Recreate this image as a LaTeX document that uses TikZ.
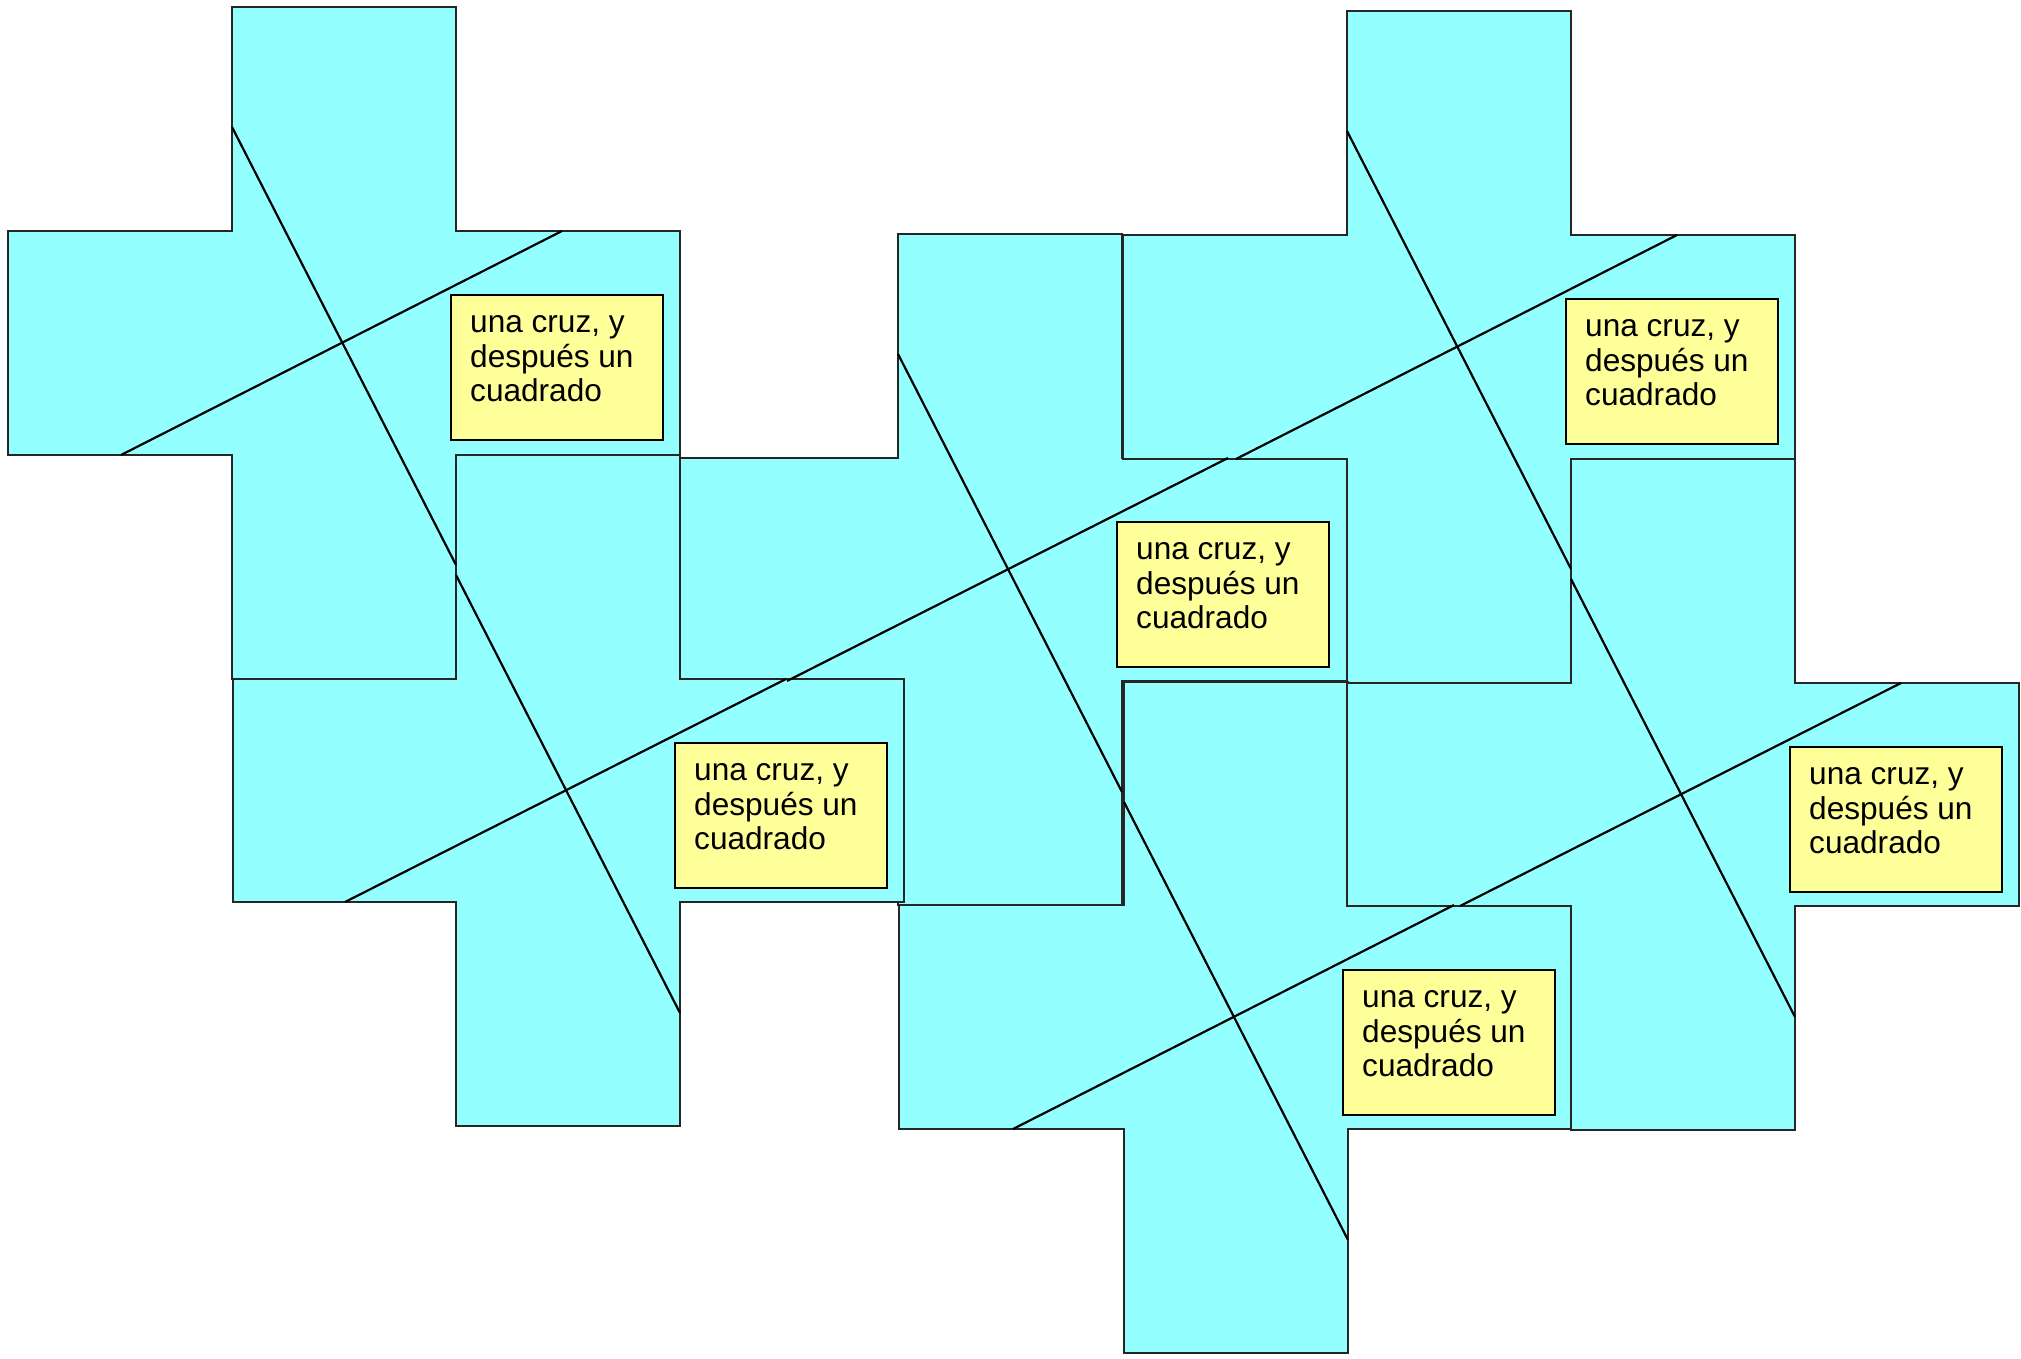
\documentclass[tikz,border=0pt]{standalone}
\usepackage{fontspec}
\setmainfont{Liberation Sans}
\definecolor{crossfill}{HTML}{93FFFF}
\definecolor{notefill}{HTML}{FFFF99}
\definecolor{edgecol}{HTML}{262626}
\tikzset{
  crossshape/.style={fill=crossfill, draw=edgecol, line width=2.5pt, line join=miter},
  diagline/.style={draw=black, line width=2.2pt},
  notebox/.style={draw=black, fill=notefill, line width=2.3pt, minimum width=212pt, minimum height=145pt, inner sep=0pt, anchor=north west},
  notetext/.style={font=\fontsize{31.6}{34.5}\selectfont, align=left, inner sep=0pt, anchor=north west},
}
% cross: columns c0..c3, rows r0..r3
\newcommand{\crossat}[8]{%
  \path[crossshape] (#2,#5) -- (#3,#5) -- (#3,#6) -- (#4,#6) -- (#4,#7) -- (#3,#7) -- (#3,#8) -- (#2,#8) -- (#2,#7) -- (#1,#7) -- (#1,#6) -- (#2,#6) -- cycle;}
% diagonals: c1, c2, r0, r1, r2
\newcommand{\diagsat}[5]{%
  \draw[diagline] (#1,#3+120) -- (#2,#3+558);
  \draw[diagline] (#1-111,#5) -- (#2+106,#4);}
% note: name, c1, r0
\newcommand{\noteat}[3]{%
  \node[notebox] (#1) at (#2+218,#3+287) {};
  \node[notetext] (#1t) at ($(#1.north west)+(20,14.2)$) {\strut una cruz, y\\después un\\cuadrado};}
\usetikzlibrary{calc}
\begin{document}
\begin{tikzpicture}[x=1pt,y=-1pt]
  \useasboundingbox (0,0) rectangle (2021,1359);
  \fill[white] (0,0) rectangle (2021,1359);
  % crosses
  \crossat{8}{232}{456}{680}{7}{231}{455}{679}
  \crossat{674}{898}{1122}{1347}{234}{458}{681}{905}
  \crossat{233}{456}{680}{904}{455}{679}{902}{1126}
  \crossat{1123}{1347}{1571}{1795}{11}{235}{459}{683}
  \crossat{899}{1124}{1348}{1571}{682}{905}{1129}{1353}
  \crossat{1347}{1571}{1795}{2019}{459}{683}{906}{1130}
  % diagonal lines
  \diagsat{232}{456}{7}{231}{455}
  \diagsat{456}{680}{455}{679}{902}
  \diagsat{898}{1122}{234}{458}{681}
  \diagsat{1347}{1571}{11}{235}{459}
  \diagsat{1124}{1348}{682}{905}{1129}
  \diagsat{1571}{1795}{459}{683}{906}
  % notes
  \noteat{n1}{232}{7}
  \noteat{n2}{456}{455}
  \noteat{n3}{898}{234}
  \noteat{n4}{1347}{11}
  \noteat{n5}{1124}{682}
  \noteat{n6}{1571}{459}
\end{tikzpicture}
\end{document}
